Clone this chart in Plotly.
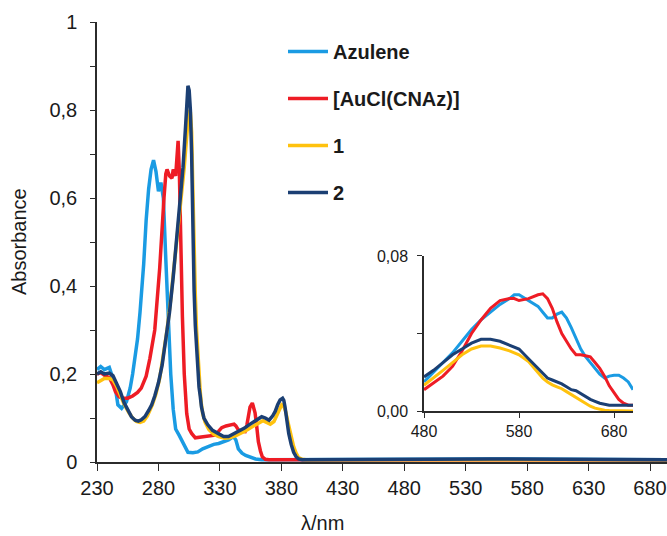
import plotly.graph_objects as go

# ---------------- main spectra ----------------
series_names = ["Azulene", "[AuCl(CNAz)]", "1", "2"]
series_colors = ["#1A9BE3", "#EE1C25", "#FFC20E", "#1B3F73"]

wl_azulene = [230, 233, 236, 240, 243, 245, 247, 250, 254, 257, 259, 261, 263, 265, 268, 270, 272, 274, 276, 278, 280, 282,
              284, 286, 288, 290, 292, 294, 297, 301, 304, 308, 312, 316, 321, 325, 329, 333, 337, 341, 343, 345, 348,
              351, 355, 359, 364, 370, 400, 450, 500, 550, 600, 650, 694]
abs_azulene = [0.21, 0.217, 0.21, 0.215, 0.19, 0.167, 0.13, 0.122, 0.137, 0.168, 0.2, 0.235, 0.28, 0.34, 0.45, 0.55,
               0.62, 0.665, 0.686, 0.66, 0.615, 0.635, 0.6, 0.46, 0.32, 0.2, 0.12, 0.075, 0.06, 0.039, 0.022, 0.021,
               0.023, 0.03, 0.036, 0.04, 0.042, 0.046, 0.05, 0.058, 0.05, 0.03, 0.02, 0.015, 0.01, 0.007, 0.005,
               0.005, 0.005, 0.005, 0.006, 0.007, 0.006, 0.005, 0.005]

wl_aucl = [230, 233, 236, 240, 243, 245, 248, 251, 255, 259, 263, 266, 270, 273, 277, 281, 284.5, 286, 287, 289, 291, 292,
           294, 295, 296, 297, 298, 299.5, 301, 303, 305, 307, 310, 314, 318, 322, 326, 329, 331.5, 335, 338, 341.5, 343,
           345, 348, 350.5, 352, 353, 354.5, 356.4, 357.5, 358.6, 360, 361.3, 363, 364.5, 367, 370, 400, 450, 500, 550,
           600, 650, 694]
abs_aucl = [0.2, 0.203, 0.197, 0.192, 0.175, 0.16, 0.148, 0.145, 0.145, 0.15, 0.158, 0.168, 0.195, 0.235, 0.3, 0.44,
            0.6, 0.655, 0.665, 0.65, 0.645, 0.665, 0.65, 0.69, 0.73, 0.66, 0.5, 0.33, 0.2, 0.11, 0.075, 0.065,
            0.055, 0.056, 0.058, 0.059, 0.061, 0.07, 0.078, 0.082, 0.084, 0.086, 0.082, 0.073, 0.07, 0.069, 0.085,
            0.107, 0.125, 0.134, 0.125, 0.112, 0.08, 0.046, 0.025, 0.012, 0.006, 0.005, 0.005, 0.005, 0.005, 0.006,
            0.005, 0.005, 0.005]

wl_cmpd1 = [230, 233, 236, 240, 243, 246, 249, 252, 256, 259, 262, 265, 268, 271, 275, 278, 281, 284, 287, 290, 293, 296,
            299, 301, 303, 304, 305, 306, 307, 308, 309, 310, 311, 312, 313, 314, 315, 316, 318, 321, 325, 329, 334, 338,
            343, 347, 351, 355, 359, 362, 365, 368, 371, 374, 376, 378, 380.3, 382, 383.5, 385, 386.5, 388, 390, 392,
            394, 397, 400, 450, 500, 550, 600, 650, 694]
abs_cmpd1 = [0.18, 0.186, 0.19, 0.19, 0.186, 0.172, 0.152, 0.132, 0.112, 0.1, 0.092, 0.09, 0.093, 0.105, 0.13, 0.155,
             0.19, 0.24, 0.3, 0.37, 0.45, 0.53, 0.61, 0.67, 0.74, 0.775, 0.8, 0.795, 0.75, 0.62, 0.47, 0.38, 0.3,
             0.24, 0.19, 0.16, 0.13, 0.11, 0.09, 0.074, 0.063, 0.058, 0.054, 0.055, 0.06, 0.065, 0.071, 0.078, 0.085,
             0.09, 0.094, 0.09, 0.086, 0.092, 0.105, 0.12, 0.13, 0.127, 0.115, 0.095, 0.075, 0.055, 0.035, 0.02,
             0.01, 0.006, 0.005, 0.005, 0.005, 0.006, 0.005, 0.005, 0.005]

wl_cmpd2 = [230, 233, 236, 240, 243, 246, 249, 252, 255.5, 258, 261, 263.6, 266, 269, 272, 274.5, 277, 280, 283, 286,
            289, 292, 295, 298, 300, 302, 303, 304, 305, 306, 307, 308, 309, 310, 311, 312, 313, 314, 315, 317, 320,
            324, 328, 333, 337, 342, 346, 350, 354, 358, 361, 364, 367, 370, 373, 375, 377, 379, 381, 382, 383, 384,
            385, 386, 388, 390, 392, 394, 397, 402, 450, 500, 550, 600, 650, 694]
abs_cmpd2 = [0.2, 0.205, 0.2, 0.202, 0.196, 0.18, 0.16, 0.135, 0.114, 0.103, 0.095, 0.093, 0.096, 0.103, 0.117, 0.13,
             0.15, 0.18, 0.22, 0.28, 0.34, 0.42, 0.51, 0.6, 0.67, 0.76, 0.81, 0.855, 0.845, 0.8, 0.7, 0.52, 0.39,
             0.31, 0.25, 0.2, 0.17, 0.15, 0.125, 0.1, 0.085, 0.072, 0.065, 0.058, 0.058, 0.065, 0.07, 0.077, 0.085,
             0.092, 0.098, 0.103, 0.1, 0.095, 0.105, 0.115, 0.13, 0.141, 0.145, 0.14, 0.125, 0.105, 0.08, 0.065, 0.04,
             0.022, 0.012, 0.007, 0.005, 0.005, 0.005, 0.006, 0.007, 0.006, 0.005, 0.005]

# ---------------- inset spectra (visible region) ----------------
wl_inset = [480, 490, 500, 510, 520, 530, 540, 550, 560, 570, 575, 580, 590, 600, 605, 610, 615, 620, 625, 630, 635,
            640, 645, 650, 655, 660, 665, 670, 675, 680, 685, 690, 695, 700]
inset_azulene = [0.015, 0.02, 0.025, 0.03, 0.036, 0.042, 0.047, 0.051, 0.055, 0.058, 0.06, 0.06, 0.057, 0.054, 0.051,
                 0.048, 0.048, 0.05, 0.051, 0.048, 0.043, 0.037, 0.032, 0.028, 0.025, 0.022, 0.019, 0.017, 0.018,
                 0.0185, 0.0185, 0.017, 0.015, 0.011]
inset_aucl = [0.011, 0.0145, 0.018, 0.023, 0.031, 0.04, 0.047, 0.053, 0.057, 0.058, 0.058, 0.057, 0.058, 0.06, 0.0605,
              0.058, 0.053, 0.046, 0.04, 0.036, 0.032, 0.029, 0.029, 0.0285, 0.028, 0.025, 0.022, 0.018, 0.013,
              0.0095, 0.006, 0.004, 0.003, 0.003]
inset_cmpd1 = [0.0133, 0.017, 0.021, 0.025, 0.029, 0.032, 0.0335, 0.0335, 0.0325, 0.031, 0.03, 0.029, 0.0255, 0.02,
               0.017, 0.015, 0.0135, 0.0125, 0.0115, 0.01, 0.0085, 0.007, 0.0055, 0.004, 0.0025, 0.0015, 0.0008,
               0.0004, 0.0002, 0.0001, 0.0, 0.0, 0.0, 0.0]
inset_cmpd2 = [0.0176, 0.021, 0.025, 0.029, 0.032, 0.035, 0.037, 0.037, 0.036, 0.034, 0.033, 0.032, 0.027, 0.022,
               0.019, 0.017, 0.016, 0.015, 0.014, 0.0125, 0.011, 0.0105, 0.009, 0.0075, 0.006, 0.005, 0.004, 0.0035,
               0.003, 0.003, 0.003, 0.003, 0.003, 0.003]

# ---------------- ticks ----------------
x_tickvals = [230, 280, 330, 380, 430, 480, 530, 580, 630, 680]
y_tickvals = [0, 0.1, 0.2, 0.3, 0.4, 0.5, 0.6, 0.7, 0.8, 0.9, 1.0]
y_ticktext = ["0", "", "0,2", "", "0,4", "", "0,6", "", "0,8", "", "1"]
inset_x_tickvals = [480, 580, 680]
inset_y_tickvals = [0, 0.04, 0.08]
inset_y_ticktext = ["0,00", "", "0,08"]

main_x = [wl_azulene, wl_aucl, wl_cmpd1, wl_cmpd2]
main_y = [abs_azulene, abs_aucl, abs_cmpd1, abs_cmpd2]
inset_y = [inset_azulene, inset_aucl, inset_cmpd1, inset_cmpd2]

FONT = "Liberation Sans, Arial, sans-serif"

fig = go.Figure()
for i, name in enumerate(series_names):
    fig.add_trace(go.Scatter(x=main_x[i], y=main_y[i], mode="lines", name=name,
                             legendgroup=name, line=dict(color=series_colors[i], width=3.5),
                             xaxis="x", yaxis="y"))
for i, name in enumerate(series_names):
    fig.add_trace(go.Scatter(x=wl_inset, y=inset_y[i], mode="lines", name=name,
                             legendgroup=name, showlegend=False,
                             line=dict(color=series_colors[i], width=3),
                             xaxis="x2", yaxis="y2"))

axis_color = "#2b2b2b"
fig.update_layout(
    width=667, height=536,
    margin=dict(l=97, r=0, t=22, b=74, autoexpand=False),
    paper_bgcolor="white", plot_bgcolor="white",
    font=dict(family=FONT, color="#1a1a1a"),
    xaxis=dict(range=[230, 693.8], tickvals=x_tickvals, ticks="outside", ticklen=7, tickwidth=1.3,
               tickcolor=axis_color, showline=True, linecolor=axis_color, linewidth=1.5,
               showgrid=False, zeroline=False, tickfont=dict(size=20), ticklabelstandoff=0,
               tickangle=0, domain=[0, 1], automargin=False),
    yaxis=dict(range=[0, 1], tickvals=y_tickvals, ticktext=y_ticktext, ticks="outside", ticklen=5,
               tickwidth=1.3, tickcolor=axis_color, showline=True, linecolor=axis_color, linewidth=1.5,
               showgrid=False, zeroline=False, tickfont=dict(size=20), ticklabelstandoff=9,
               domain=[0, 1], automargin=False),
    xaxis2=dict(range=[480, 700], tickvals=inset_x_tickvals, ticks="outside", ticklen=5, tickwidth=1.3,
                tickcolor=axis_color, showline=True, linecolor=axis_color, linewidth=1.5,
                showgrid=False, zeroline=False, tickfont=dict(size=16), anchor="y2", tickangle=0,
                domain=[0.5737, 0.9404], automargin=False),
    yaxis2=dict(range=[0, 0.08], tickvals=inset_y_tickvals, ticktext=inset_y_ticktext, ticks="outside",
                ticklen=5, tickwidth=1.3, tickcolor=axis_color, showline=True, linecolor=axis_color,
                linewidth=1.5, showgrid=False, zeroline=False, tickfont=dict(size=16), anchor="x2",
                domain=[0.1159, 0.4682], ticklabelstandoff=6, automargin=False),
    showlegend=True,
    legend=dict(x=(283 - 97) / 570, y=(462 - 32) / 440,
                xanchor="left", yanchor="top", bgcolor="rgba(0,0,0,0)", borderwidth=0,
                font=dict(family=FONT, size=20, color="#1a1a1a", weight="bold"),
                tracegroupgap=18, itemwidth=40),
    annotations=[
        dict(text="Absorbance", xref="paper", yref="paper", x=(19 - 97) / 570, y=0.5,
             xanchor="center", yanchor="middle", textangle=-90, showarrow=False,
             font=dict(size=20, family=FONT, color="#1a1a1a")),
        dict(text="λ/nm", xref="paper", yref="paper", x=(322 - 97) / 570, y=-(523 - 462) / 440,
             xanchor="center", yanchor="middle", showarrow=False,
             font=dict(size=20, family=FONT, color="#1a1a1a")),
    ],
)

fig.write_html("out.html", config={"displayModeBar": False},
               post_script="document.body.style.margin='0';document.body.style.overflow='hidden';")
